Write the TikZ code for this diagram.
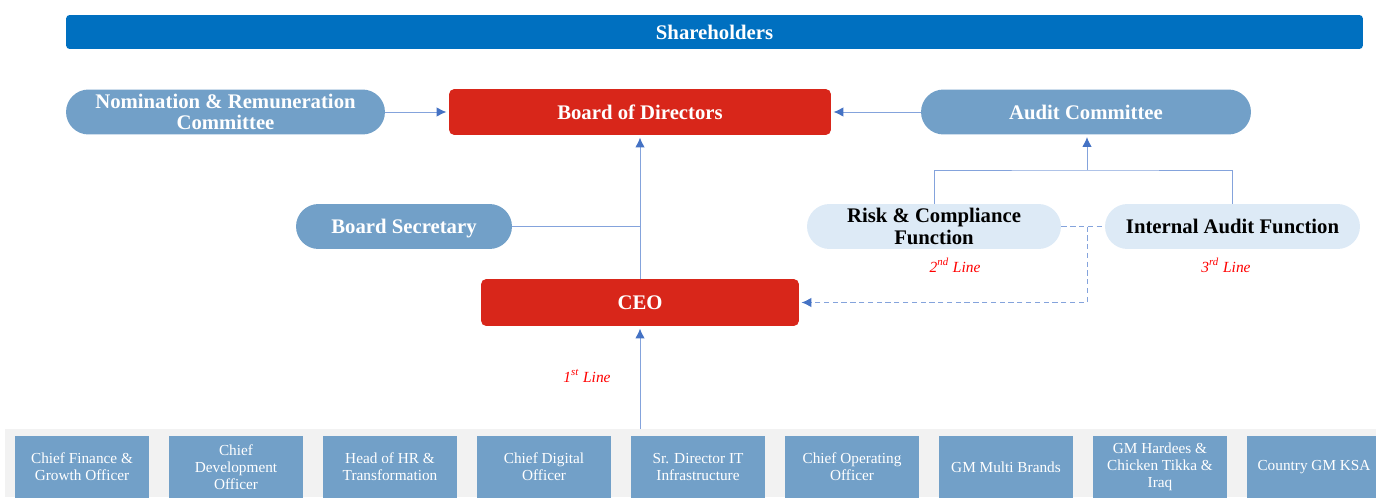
\documentclass[tikz,border=0pt]{standalone}
\usepackage{fontspec}
\setmainfont{Liberation Serif}
\usetikzlibrary{arrows.meta}

\definecolor{sharebar}{RGB}{0,112,192}
\definecolor{boardred}{RGB}{216,38,26}
\definecolor{steel}{RGB}{114,160,200}
\definecolor{pale}{RGB}{221,234,246}
\definecolor{wire}{RGB}{68,114,196}
\definecolor{softwire}{RGB}{132,163,220}
\definecolor{band}{RGB}{242,242,242}

\begin{document}
\begin{tikzpicture}[x=0.02cm, y=-0.02cm, >={Latex[length=5.6pt, width=5.4pt, color=wire]},
                    line width=0.55pt]
    \tikzstyle{head}=[font=\fontsize{11.8}{12.3}\selectfont\bfseries, align=center,
                      inner sep=0pt, text depth=0pt]
    \tikzstyle{redbox}=[head, fill=boardred, text=white, rounded corners=3pt]
    \tikzstyle{pill}=[head, rounded corners=0.45cm, minimum height=0.9cm]
    \tikzstyle{panel}=[pill, fill=steel, text=white]
    \tikzstyle{func}=[pill, fill=pale, text=black]
    \tikzstyle{officer}=[fill=steel, text=white, align=center, inner sep=0pt,
                         minimum width=2.68cm, minimum height=1.24cm,
                         font=\fontsize{8.7}{9.7}\selectfont]
    \tikzstyle{lineof}=[text=red, font=\fontsize{8.8}{10}\selectfont\itshape]
    \tikzstyle{link}=[draw=softwire]
    \tikzstyle{feed link}=[link, ->, shorten >=1.2pt]
    \tikzstyle{dotted link}=[draw=softwire, densely dashed]

    \useasboundingbox (0,0) rectangle (1376,497);
    \clip (0,0) rectangle (1376,497);

    % management band
    \fill[band] (5,429) rectangle (1376,497);

    \node[head, fill=sharebar, text=white, rounded corners=2pt,
          minimum width=25.94cm, minimum height=0.68cm] (share) at (714.5,32) {Shareholders};

    \node[panel, minimum width=6.38cm]                       (nomrem)    at (225.5,112) {Nomination \& Remuneration\\Committee};
    \node[redbox, minimum width=7.64cm, minimum height=0.92cm] (board)   at (640,112)   {Board of Directors};
    \node[panel, minimum width=6.6cm]                        (audit)     at (1086,112)  {Audit Committee};

    \node[panel, minimum width=4.32cm]                       (secretary) at (404,226.5)  {Board Secretary};
    \node[func, minimum width=5.08cm]                        (risk)      at (934,226.5)  {Risk \& Compliance\\Function};
    \node[func, minimum width=5.1cm]                         (iaf)       at (1232.5,226.5) {Internal Audit Function};

    \node[redbox, minimum width=6.36cm, minimum height=0.94cm] (ceo)     at (640,302.5) {CEO};

    \node[lineof] (second) at (955,265)  {2\textsuperscript{nd} Line};
    \node[lineof] (third)  at (1226,265) {3\textsuperscript{rd} Line};
    \node[lineof] (first)  at (587,376)  {1\textsuperscript{st} Line};

    % executives reporting to the CEO
    \foreach \name/\txt [count=\i from 0] in {
        cfo/{Chief Finance \&\\Growth Officer},
        cdo/{Chief\\Development\\Officer},
        hr/{Head of HR \&\\Transformation},
        digital/{Chief Digital\\Officer},
        it/{Sr. Director IT\\Infrastructure},
        coo/{Chief Operating\\Officer},
        multi/{GM Multi Brands},
        hardees/{GM Hardees \&\\Chicken Tikka \&\\Iraq},
        ksa/{Country GM KSA}}
        \node[officer] (\name) at (82+154*\i,467) {\txt};

    \coordinate (feed) at (640,429);
    \coordinate (fork) at (1087,170);

    \path (nomrem) edge[feed link] (board);
    \path (audit)  edge[feed link] (board);
    \path (ceo)    edge[feed link] (board);
    \path (feed)   edge[feed link] (ceo);
    \draw[link] (secretary.east) -- (secretary.east -| ceo.north);

    \draw[link] (risk.north) |- (fork) -| (iaf.north);
    \draw[feed link] (fork) -- (fork |- audit.south);

    \draw[dotted link] (risk.east) -- (iaf.west);
    \draw[dotted link, ->, shorten >=1.2pt] (risk.east -| fork) |- (ceo.east);
\end{tikzpicture}
\end{document}
